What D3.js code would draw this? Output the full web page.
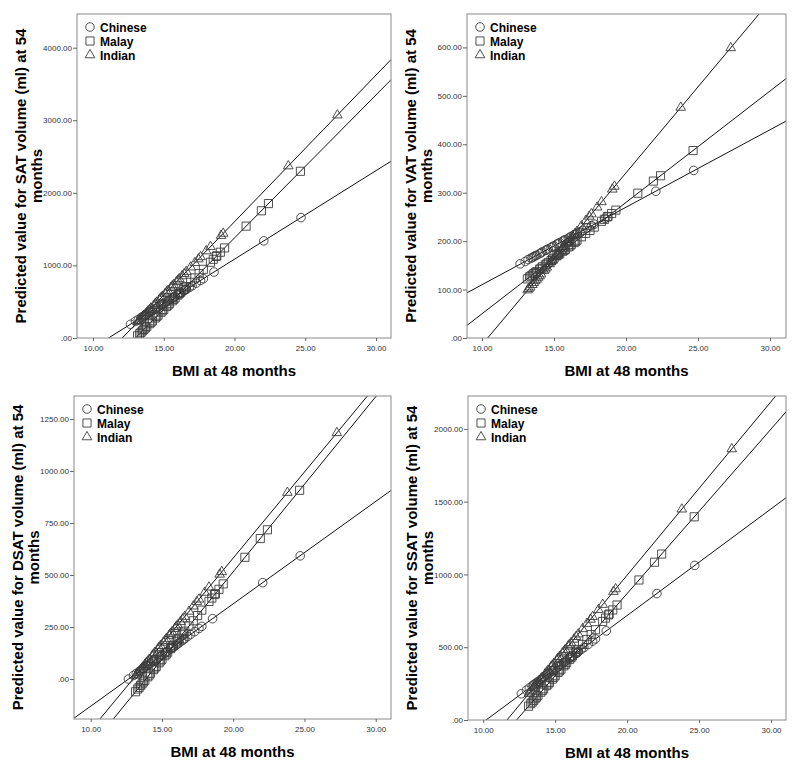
<!DOCTYPE html>
<html>
<head>
<meta charset="utf-8">
<script src="https://cdn.jsdelivr.net/npm/d3@7"></script>
<style>
body { margin: 0; background: #fff; }
svg { display: block; font-family: "Liberation Sans", Arial, sans-serif; }
</style>
</head>
<body>
<svg width="800" height="770"></svg>
<script>
// BMI at 48 months, one array per ethnic group
var bmiChinese = [12.65, 13.2, 13.4, 13.6, 13.8, 14.0, 14.2, 14.4, 14.6, 14.8, 15.0, 15.2, 15.4, 15.6, 15.8, 16.0, 16.2, 16.4, 16.6, 16.8, 17.0, 17.3, 17.6, 17.8, 18.55, 22.07, 24.7,
  13.0, 13.5, 13.7, 14.1, 14.5, 14.9, 15.3, 15.7, 16.1, 16.5];
var bmiMalay = [13.15, 13.4, 13.6, 13.8, 14.0, 14.2, 14.4, 14.6, 14.8, 15.0, 15.2, 15.4, 15.6, 15.8, 16.0, 16.2, 16.4, 16.6, 16.9, 17.2, 17.5, 17.8, 18.3, 18.5, 18.7, 18.75, 19.0, 19.3, 20.82, 21.9, 22.4, 24.66,
  13.3, 13.5, 13.7, 14.1, 14.5, 14.9, 15.3, 15.7, 16.1, 16.5];
var bmiIndian = [13.17, 13.35, 13.5, 13.7, 13.9, 14.1, 14.3, 14.5, 14.7, 14.9, 15.1, 15.3, 15.5, 15.7, 15.9, 16.1, 16.3, 16.6, 16.9, 17.2, 17.45, 17.6, 18.0, 18.3, 19.05, 19.2, 23.8, 27.27,
  13.25, 13.6, 13.8, 14.0, 14.4, 14.8, 15.2, 15.6, 16.0, 16.45];

// predicted SAT volume (ml) at 54 months
var satChinese = [189, 256, 281, 305, 329, 354, 378, 403, 427, 451, 476, 500, 525, 549, 573, 598, 622, 647, 671, 695, 720, 756, 793, 817, 909, 1338, 1659,
  232, 293, 317, 366, 415, 464, 512, 561, 610, 659];
var satMalay = [30, 79, 118, 158, 197, 236, 276, 315, 355, 394, 433, 473, 512, 552, 591, 630, 670, 709, 768, 827, 887, 946, 1044, 1084, 1123, 1133, 1182, 1241, 1541, 1753, 1852, 2297,
  59, 99, 138, 217, 296, 374, 453, 532, 611, 690];
var satIndian = [222, 259, 289, 329, 370, 410, 450, 491, 531, 572, 612, 652, 693, 733, 774, 814, 854, 915, 976, 1036, 1087, 1117, 1198, 1258, 1410, 1440, 2369, 3070,
  238, 309, 349, 390, 471, 551, 632, 713, 794, 885];

// predicted VAT volume
var vatChinese = [153, 162, 165, 168, 171, 174, 178, 181, 184, 187, 190, 194, 197, 200, 203, 206, 210, 213, 216, 219, 222, 227, 232, 235, 247, 303, 346,
  158, 166, 170, 176, 182, 189, 195, 202, 208, 214];
var vatMalay = [122, 128, 133, 137, 142, 147, 151, 156, 160, 165, 170, 174, 179, 183, 188, 193, 197, 202, 209, 216, 222, 229, 241, 245, 250, 251, 257, 264, 299, 324, 335, 387,
  126, 130, 135, 144, 153, 163, 172, 181, 190, 199];
var vatIndian = [99, 105, 110, 118, 125, 132, 139, 146, 153, 160, 167, 174, 181, 189, 196, 203, 210, 220, 231, 242, 251, 256, 270, 281, 307, 313, 476, 599,
  102, 114, 121, 128, 142, 157, 171, 185, 199, 215];

// predicted DSAT volume
var dsatChinese = [0, 27, 36, 46, 56, 66, 76, 86, 95, 105, 115, 125, 135, 145, 154, 164, 174, 184, 194, 204, 214, 228, 243, 253, 290, 463, 592,
  17, 41, 51, 71, 91, 110, 130, 150, 169, 189];
var dsatMalay = [-61, -40, -23, -6, 11, 28, 45, 61, 78, 95, 112, 129, 146, 162, 179, 196, 213, 230, 255, 280, 305, 331, 373, 389, 406, 410, 431, 457, 585, 675, 717, 907,
  -48, -31, -14, 19, 53, 87, 120, 154, 188, 221];
var dsatIndian = [17, 31, 44, 60, 77, 93, 110, 127, 143, 160, 176, 193, 209, 226, 242, 259, 275, 300, 325, 350, 371, 383, 416, 441, 503, 515, 896, 1183,
  23, 52, 69, 85, 118, 151, 184, 218, 251, 288];

// predicted SSAT volume
var ssatChinese = [180, 220, 234, 249, 264, 278, 293, 308, 322, 337, 352, 366, 381, 396, 410, 425, 440, 454, 469, 484, 498, 520, 542, 557, 612, 869, 1062,
  205, 242, 256, 286, 315, 344, 374, 403, 432, 461];
var ssatMalay = [95, 123, 146, 168, 191, 214, 236, 259, 281, 304, 327, 349, 372, 394, 417, 440, 462, 485, 519, 553, 587, 620, 677, 700, 722, 728, 756, 790, 962, 1084, 1140, 1396,
  112, 134, 157, 202, 247, 293, 338, 383, 428, 473];
var ssatIndian = [181, 203, 221, 244, 268, 292, 316, 340, 364, 387, 411, 435, 459, 483, 507, 530, 554, 590, 626, 662, 691, 709, 757, 793, 882, 900, 1448, 1862,
  191, 232, 256, 280, 328, 375, 423, 471, 518, 572];

// fit lines: value at BMI 8 and at BMI 32 (Chinese, Malay, Indian)
var fitBmi = [8, 32];
var satFit = [[-378, 2550], [-985, 3743], [-822, 4026]];
var vatFit = [[78, 462], [4, 556], [-85, 767]];
var dsatFit = [[-229, 952], [-494, 1525], [-411, 1574]];
var ssatFit = [[-161, 1597], [-487, 2225], [-435, 2426]];

var groups = ["Chinese", "Malay", "Indian"];
var xTicks = [10, 15, 20, 25, 30];
var satTicks = [0, 1000, 2000, 3000, 4000];
var vatTicks = [0, 100, 200, 300, 400, 500, 600];
var dsatTicks = [0, 250, 500, 750, 1000, 1250];
var ssatTicks = [0, 500, 1000, 1500, 2000];

var bmis = [bmiChinese, bmiMalay, bmiIndian];

var panels = [
  {label: "SAT", box: {l: 77, r: 391, t: 14, b: 338}, xdom: [8.87, 31.06], ydom: [0, 4464], ticks: satTicks, vals: [satChinese, satMalay, satIndian], fit: satFit},
  {label: "VAT", box: {l: 467, r: 786, t: 14, b: 338}, xdom: [8.96, 31.11], ydom: [0, 669], ticks: vatTicks, vals: [vatChinese, vatMalay, vatIndian], fit: vatFit},
  {label: "DSAT", box: {l: 74, r: 391, t: 396, b: 719}, xdom: [8.83, 31.07], ydom: [-192, 1360], ticks: dsatTicks, vals: [dsatChinese, dsatMalay, dsatIndian], fit: dsatFit},
  {label: "SSAT", box: {l: 468, r: 786, t: 396, b: 720}, xdom: [8.94, 31.04], ydom: [0, 2226], ticks: ssatTicks, vals: [ssatChinese, ssatMalay, ssatIndian], fit: ssatFit}
];

var svg = d3.select("svg");

var shapes = [d3.symbolCircle, d3.symbolSquare, d3.symbolTriangle];
var sizes = [58, 66, 40];

function fmt(d) {
  return d === 0 ? ".00" : d.toFixed(2);
}

panels.forEach(function(p, pi) {
  var b = p.box;
  var x = d3.scaleLinear().domain(p.xdom).range([b.l, b.r]);
  var y = d3.scaleLinear().domain(p.ydom).range([b.b, b.t]);

  var clipId = "clip" + pi;
  svg.append("clipPath").attr("id", clipId)
    .append("rect")
    .attr("x", b.l).attr("y", b.t)
    .attr("width", b.r - b.l).attr("height", b.b - b.t);

  var g = svg.append("g").attr("clip-path", "url(#" + clipId + ")");

  // fit lines
  p.fit.forEach(function(f) {
    g.append("line")
      .attr("x1", x(fitBmi[0])).attr("y1", y(f[0]))
      .attr("x2", x(fitBmi[1])).attr("y2", y(f[1]))
      .attr("stroke", "#111")
      .attr("stroke-width", 1);
  });

  // points
  groups.forEach(function(grp, gi) {
    var pts = bmis[gi].map(function(v, i) { return [v, p.vals[gi][i]]; });
    g.selectAll(".pt" + gi)
      .data(pts)
      .enter().append("path")
      .attr("class", "pt" + gi)
      .attr("d", d3.symbol().type(shapes[gi]).size(sizes[gi]))
      .attr("transform", function(d) { return "translate(" + x(d[0]) + "," + y(d[1]) + ")"; })
      .attr("fill", "none")
      .attr("stroke", "#3c3c3c")
      .attr("stroke-width", 0.9);
  });

  // frame
  svg.append("rect")
    .attr("x", b.l).attr("y", b.t)
    .attr("width", b.r - b.l).attr("height", b.b - b.t)
    .attr("fill", "none")
    .attr("stroke", "#8a8a8a")
    .attr("stroke-width", 1);

  // axes
  var ax = svg.append("g")
    .attr("transform", "translate(0," + b.b + ")")
    .call(d3.axisBottom(x).tickValues(xTicks).tickFormat(fmt).tickSize(3).tickPadding(4));
  var ay = svg.append("g")
    .attr("transform", "translate(" + b.l + ",0)")
    .call(d3.axisLeft(y).tickValues(p.ticks).tickFormat(fmt).tickSize(4).tickPadding(1));
  [ax, ay].forEach(function(a) {
    a.select(".domain").remove();
    a.selectAll("line").attr("stroke", "#666");
    a.selectAll("text").attr("fill", "#333").style("font-size", "8px").style("font-family", "'Liberation Sans', Arial, sans-serif");
  });

  // axis titles
  svg.append("text")
    .attr("x", (b.l + b.r) / 2)
    .attr("y", b.b + 38)
    .attr("text-anchor", "middle")
    .style("font-size", "15px")
    .style("font-weight", "bold")
    .text("BMI at 48 months");

  var yt = svg.append("text")
    .attr("transform", "translate(" + (b.l - 51) + "," + ((b.t + b.b) / 2) + ") rotate(-90)")
    .attr("text-anchor", "middle")
    .style("font-size", "15px")
    .style("font-weight", "bold");
  yt.append("tspan").attr("x", 0).attr("y", 0)
    .text("Predicted value for " + p.label + " volume (ml) at 54");
  yt.append("tspan").attr("x", 0).attr("y", 15.5).text("months");

  // legend
  groups.forEach(function(grp, gi) {
    var ly = b.t + 13 + gi * 14;
    svg.append("path")
      .attr("d", d3.symbol().type(shapes[gi]).size(sizes[gi]))
      .attr("transform", "translate(" + (b.l + 13) + "," + ly + ")")
      .attr("fill", "none")
      .attr("stroke", "#3c3c3c")
      .attr("stroke-width", 0.9);
    svg.append("text")
      .attr("x", b.l + 23)
      .attr("y", ly + 4.5)
      .style("font-size", "12px")
      .style("font-weight", "bold")
      .text(grp);
  });
});
</script>
</body>
</html>
